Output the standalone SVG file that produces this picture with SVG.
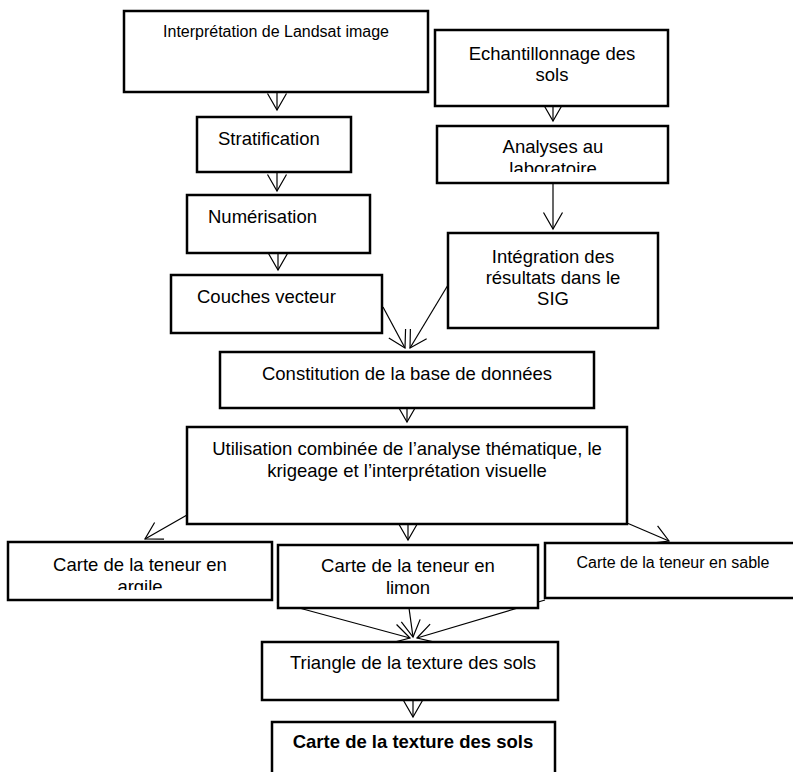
<svg xmlns="http://www.w3.org/2000/svg" width="793" height="772" viewBox="0 0 793 772">
  <defs>
    <style>
      .box { fill: #ffffff; stroke: #000000; stroke-width: 2.5; }
      .t { font-family: "Liberation Sans", Arial, sans-serif; font-size: 18.5px; fill: #000000; }
      .s { font-size: 16px; }
      .mid { text-anchor: middle; }
      .b { font-weight: bold; }
      .con line, .con path { stroke: #000000; stroke-width: 1.2; fill: none; marker-end: url(#vhead); }
    </style>
    <marker id="vhead" markerUnits="userSpaceOnUse" viewBox="-20 -12 24 24" markerWidth="24" markerHeight="24" refX="0" refY="0" orient="auto" overflow="visible">
      <path d="M-16.5,-9.5 L0,0 L-16.5,9.5" fill="none" stroke="#000000" stroke-width="1.2"/>
    </marker>
    <clipPath id="clipAnalyses"><rect x="437" y="126" width="231" height="46"/></clipPath>
    <clipPath id="clipArgile"><rect x="8" y="542" width="264" height="48"/></clipPath>
  </defs>

  <rect width="793" height="772" fill="#ffffff"/>

  <!-- connectors -->
  <g id="connectors" class="con">
    <line x1="277" y1="92" x2="277" y2="110"/>
    <line x1="277" y1="172" x2="277" y2="191"/>
    <line x1="278" y1="253" x2="278" y2="270"/>
    <line x1="553" y1="106" x2="553" y2="121"/>
    <line x1="553" y1="183" x2="553" y2="229"/>
    <line x1="383" y1="307" x2="405" y2="348"/>
    <line x1="448" y1="285" x2="410" y2="348"/>
    <line x1="407" y1="408" x2="407" y2="422"/>
    <line x1="187" y1="515" x2="145" y2="539"/>
    <line x1="408" y1="524" x2="408" y2="540"/>
    <line x1="627" y1="523" x2="669" y2="541"/>
    <line x1="277" y1="602" x2="410" y2="638"/>
    <line x1="409" y1="608" x2="413" y2="637"/>
    <line x1="545" y1="600" x2="417" y2="638"/>
    <line x1="413" y1="700" x2="413" y2="717"/>
  </g>

  <g id="n-landsat">
    <rect class="box" x="124" y="11" width="304" height="81"/>
    <text class="t s mid" x="276" y="37">Interprétation de Landsat image</text>
  </g>

  <g id="n-echantillonnage">
    <rect class="box" x="435" y="30" width="233" height="76"/>
    <text class="t mid" x="552" y="60">Echantillonnage des</text>
    <text class="t mid" x="552" y="81">sols</text>
  </g>

  <g id="n-stratification">
    <rect class="box" x="197" y="117" width="154" height="55"/>
    <text class="t" x="218" y="145">Stratification</text>
  </g>

  <g id="n-analyses">
    <rect class="box" x="437" y="126" width="231" height="57"/>
    <g clip-path="url(#clipAnalyses)">
      <text class="t mid" x="553" y="153">Analyses au</text>
      <text class="t mid" x="553" y="175">laboratoire</text>
    </g>
  </g>

  <g id="n-numerisation">
    <rect class="box" x="187" y="195" width="183" height="58"/>
    <text class="t" x="208" y="223">Numérisation</text>
  </g>

  <g id="n-integration">
    <rect class="box" x="448" y="233" width="210" height="95"/>
    <text class="t mid" x="553" y="263">Intégration des</text>
    <text class="t mid" x="553" y="284">résultats dans le</text>
    <text class="t mid" x="553" y="305">SIG</text>
  </g>

  <g id="n-couches">
    <rect class="box" x="171" y="275" width="211" height="58"/>
    <text class="t" x="197" y="303">Couches vecteur</text>
  </g>

  <g id="n-constitution">
    <rect class="box" x="220" y="352" width="374" height="56"/>
    <text class="t mid" x="407" y="380">Constitution de la base de données</text>
  </g>

  <g id="n-utilisation">
    <rect class="box" x="187" y="427" width="440" height="97"/>
    <text class="t mid" x="407" y="455">Utilisation combinée de l’analyse thématique, le</text>
    <text class="t mid" x="407" y="477">krigeage et l’interprétation visuelle</text>
  </g>

  <g id="n-argile">
    <rect class="box" x="8" y="542" width="264" height="58"/>
    <g clip-path="url(#clipArgile)">
      <text class="t mid" x="140" y="571">Carte de la teneur en</text>
      <text class="t mid" x="140" y="593">argile</text>
    </g>
  </g>

  <g id="n-limon">
    <rect class="box" x="278" y="545" width="260" height="63"/>
    <text class="t mid" x="408" y="572">Carte de la teneur en</text>
    <text class="t mid" x="408" y="594">limon</text>
  </g>

  <g id="n-sable">
    <rect class="box" x="545" y="543" width="256" height="55"/>
    <text class="t s mid" x="673" y="568">Carte de la teneur en sable</text>
  </g>

  <g id="n-triangle">
    <rect class="box" x="262" y="642" width="296" height="58"/>
    <text class="t mid" x="413" y="669">Triangle de la texture des sols</text>
  </g>

  <g id="n-carte-texture">
    <rect class="box" x="272" y="722" width="283" height="60"/>
    <text class="t b mid" x="413" y="748">Carte de la texture des sols</text>
  </g>
</svg>
